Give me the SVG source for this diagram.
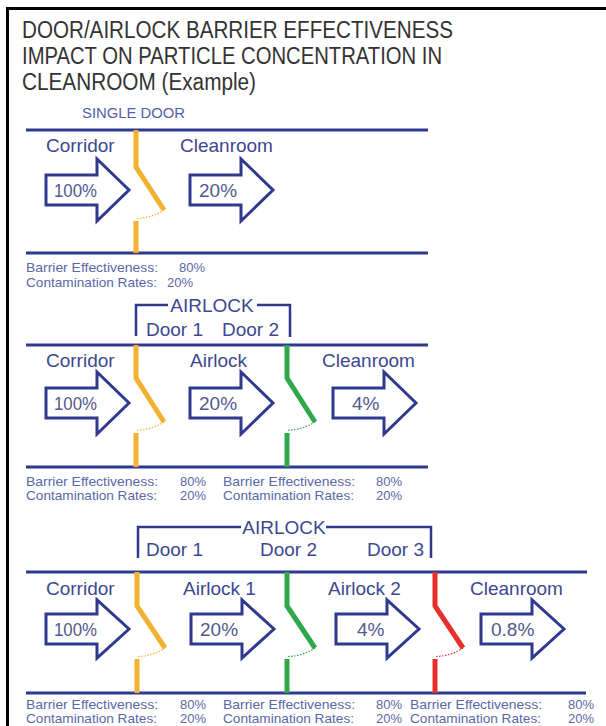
<svg xmlns="http://www.w3.org/2000/svg" xmlns:xlink="http://www.w3.org/1999/xlink" width="606" height="726" viewBox="0 0 606 726">
<style>
.bg{fill:#ffffff}
.frame{fill:none;stroke:#000;stroke-width:3}
.title{font-family:"Liberation Sans",Arial,sans-serif;font-size:23.5px;fill:#333333}
.sub{font-family:"Liberation Sans",Arial,sans-serif;font-size:15.5px;fill:#5560a8}
.wall{stroke:#2f3a8f;stroke-width:3;fill:none}
.brk{stroke:#2f3a8f;stroke-width:2.5;fill:none}
.lbl{font-family:"Liberation Sans",Arial,sans-serif;font-size:19px;fill:#3d4890}
.pct{font-family:"Liberation Sans",Arial,sans-serif;font-size:19px;fill:#525a8c}
.sm{font-family:"Liberation Sans",Arial,sans-serif;font-size:13px;fill:#5a67a8}
.arr{fill:#ffffff;stroke:#2f3a8f;stroke-width:3;stroke-linejoin:miter}
.door{fill:none;stroke-width:5}
.swing{fill:none;stroke-width:1.2;stroke-dasharray:1.5 1.5}
.y{stroke:#f2b230}
.g{stroke:#2ea84a}
.r{stroke:#e8302a}
</style>
<defs>
<path id="arrow" d="M0,-15 H51 V-31 L83,0 L51,31 V15 H0 Z"/>
<path id="arrow3" d="M0,-15 H51 V-29 L83,0 L51,29 V15 H0 Z"/>
</defs>
<rect class="bg" x="0" y="0" width="606" height="726"/>
<rect class="frame" x="7.5" y="8.5" width="700" height="800"/>

<g id="title">
<text class="title" x="22" y="38" textLength="431" lengthAdjust="spacingAndGlyphs">DOOR/AIRLOCK BARRIER EFFECTIVENESS</text>
<text class="title" x="22" y="64" textLength="420" lengthAdjust="spacingAndGlyphs">IMPACT ON PARTICLE CONCENTRATION IN</text>
<text class="title" x="22" y="90" textLength="234" lengthAdjust="spacingAndGlyphs">CLEANROOM (Example)</text>
</g>

<!-- SECTION 1 -->
<g id="single-door">
<text class="sub" x="82" y="118" textLength="103" lengthAdjust="spacingAndGlyphs">SINGLE DOOR</text>
<line class="wall" x1="26" y1="130" x2="428" y2="130"/>
<line class="wall" x1="26" y1="253" x2="428" y2="253"/>
<text class="lbl" x="46" y="152">Corridor</text>
<text class="lbl" x="180" y="152">Cleanroom</text>
<g id="s1-door1">
<path class="door y" d="M136,130 V167 L164,210"/>
<path class="swing y" d="M164,210 A51.3,51.3 0 0 1 136,218.3"/>
<path class="door y" d="M136,221 V253"/>
</g>
<text class="sm" x="26" y="272" textLength="132" lengthAdjust="spacingAndGlyphs">Barrier Effectiveness:</text>
<text class="sm" x="179" y="272">80%</text>
<text class="sm" x="26" y="287" textLength="131" lengthAdjust="spacingAndGlyphs">Contamination Rates:</text>
<text class="sm" x="167" y="287">20%</text>
</g>

<!-- SECTION 2 -->
<g id="airlock-2door">
<path class="brk" d="M136,336 V305 H168 M257,305 H290 V337"/>
<text class="lbl" x="212" y="312" text-anchor="middle">AIRLOCK</text>
<text class="lbl" x="146" y="336">Door 1</text>
<text class="lbl" x="222" y="336">Door 2</text>
<line class="wall" x1="26" y1="345" x2="428" y2="345"/>
<line class="wall" x1="26" y1="467" x2="428" y2="467"/>
<text class="lbl" x="46" y="367">Corridor</text>
<text class="lbl" x="190" y="367">Airlock</text>
<text class="lbl" x="322" y="367">Cleanroom</text>
<g id="s2-door1">
<path class="door y" d="M136,345 V378 L164,422"/>
<path class="swing y" d="M164,422 A52.2,52.2 0 0 1 136,430.2"/>
<path class="door y" d="M136,433 V467"/>
</g>
<g id="s2-door2">
<path class="door g" d="M287,345 V378 L315,422"/>
<path class="swing g" d="M315,422 A52.2,52.2 0 0 1 287,430.2"/>
<path class="door g" d="M287,433 V467"/>
</g>
<text class="sm" x="26" y="486" textLength="132" lengthAdjust="spacingAndGlyphs">Barrier Effectiveness:</text>
<text class="sm" x="180" y="486">80%</text>
<text class="sm" x="26" y="500" textLength="131" lengthAdjust="spacingAndGlyphs">Contamination Rates:</text>
<text class="sm" x="180" y="500">20%</text>
<text class="sm" x="223" y="486" textLength="132" lengthAdjust="spacingAndGlyphs">Barrier Effectiveness:</text>
<text class="sm" x="376" y="486">80%</text>
<text class="sm" x="223" y="500" textLength="131" lengthAdjust="spacingAndGlyphs">Contamination Rates:</text>
<text class="sm" x="376" y="500">20%</text>
</g>

<!-- SECTION 3 -->
<g id="airlock-3door">
<path class="brk" d="M138,558 V527 H241 M326,527 H431 V558"/>
<text class="lbl" x="284" y="534" text-anchor="middle">AIRLOCK</text>
<text class="lbl" x="146" y="556">Door 1</text>
<text class="lbl" x="260" y="556">Door 2</text>
<text class="lbl" x="367" y="556">Door 3</text>
<line class="wall" x1="26" y1="572" x2="587" y2="572"/>
<line class="wall" x1="26" y1="693" x2="586" y2="693"/>
<text class="lbl" x="46" y="595">Corridor</text>
<text class="lbl" x="183" y="595">Airlock 1</text>
<text class="lbl" x="328" y="595">Airlock 2</text>
<text class="lbl" x="470" y="595">Cleanroom</text>
<g id="s3-door1">
<path class="door y" d="M137,572 V606 L165,648"/>
<path class="swing y" d="M165,648 A50.5,50.5 0 0 1 137,656.5"/>
<path class="door y" d="M137,659 V693"/>
</g>
<g id="s3-door2">
<path class="door g" d="M287,572 V606 L315,648"/>
<path class="swing g" d="M315,648 A50.5,50.5 0 0 1 287,656.5"/>
<path class="door g" d="M287,659 V693"/>
</g>
<g id="s3-door3">
<path class="door r" d="M435,572 V606 L463,648"/>
<path class="swing r" d="M463,648 A50.5,50.5 0 0 1 435,656.5"/>
<path class="door r" d="M435,659 V693"/>
</g>
<text class="sm" x="26" y="709" textLength="132" lengthAdjust="spacingAndGlyphs">Barrier Effectiveness:</text>
<text class="sm" x="180" y="709">80%</text>
<text class="sm" x="26" y="723" textLength="131" lengthAdjust="spacingAndGlyphs">Contamination Rates:</text>
<text class="sm" x="180" y="723">20%</text>
<text class="sm" x="223" y="709" textLength="132" lengthAdjust="spacingAndGlyphs">Barrier Effectiveness:</text>
<text class="sm" x="376" y="709">80%</text>
<text class="sm" x="223" y="723" textLength="131" lengthAdjust="spacingAndGlyphs">Contamination Rates:</text>
<text class="sm" x="376" y="723">20%</text>
<text class="sm" x="410" y="709" textLength="132" lengthAdjust="spacingAndGlyphs">Barrier Effectiveness:</text>
<text class="sm" x="568" y="709">80%</text>
<text class="sm" x="410" y="723" textLength="131" lengthAdjust="spacingAndGlyphs">Contamination Rates:</text>
<text class="sm" x="568" y="723">20%</text>
</g>

<g id="connectors">
<use href="#arrow" class="arr" x="46" y="190"/>
<use href="#arrow" class="arr" x="190" y="190"/>
<use href="#arrow" class="arr" x="46" y="403"/>
<use href="#arrow" class="arr" x="190" y="403"/>
<use href="#arrow" class="arr" x="333" y="403"/>
<use href="#arrow3" class="arr" x="46" y="629"/>
<use href="#arrow3" class="arr" x="191" y="629"/>
<use href="#arrow3" class="arr" x="336" y="629"/>
<use href="#arrow3" class="arr" x="481" y="629"/>
</g>

<g id="arrow-labels">
<text class="pct" x="54" y="197" textLength="43" lengthAdjust="spacingAndGlyphs">100%</text>
<text class="pct" x="199" y="197">20%</text>
<text class="pct" x="54" y="410" textLength="43" lengthAdjust="spacingAndGlyphs">100%</text>
<text class="pct" x="199" y="410">20%</text>
<text class="pct" x="352" y="410">4%</text>
<text class="pct" x="54" y="636" textLength="43" lengthAdjust="spacingAndGlyphs">100%</text>
<text class="pct" x="200" y="636">20%</text>
<text class="pct" x="357" y="636">4%</text>
<text class="pct" x="491" y="636">0.8%</text>
</g>
</svg>
